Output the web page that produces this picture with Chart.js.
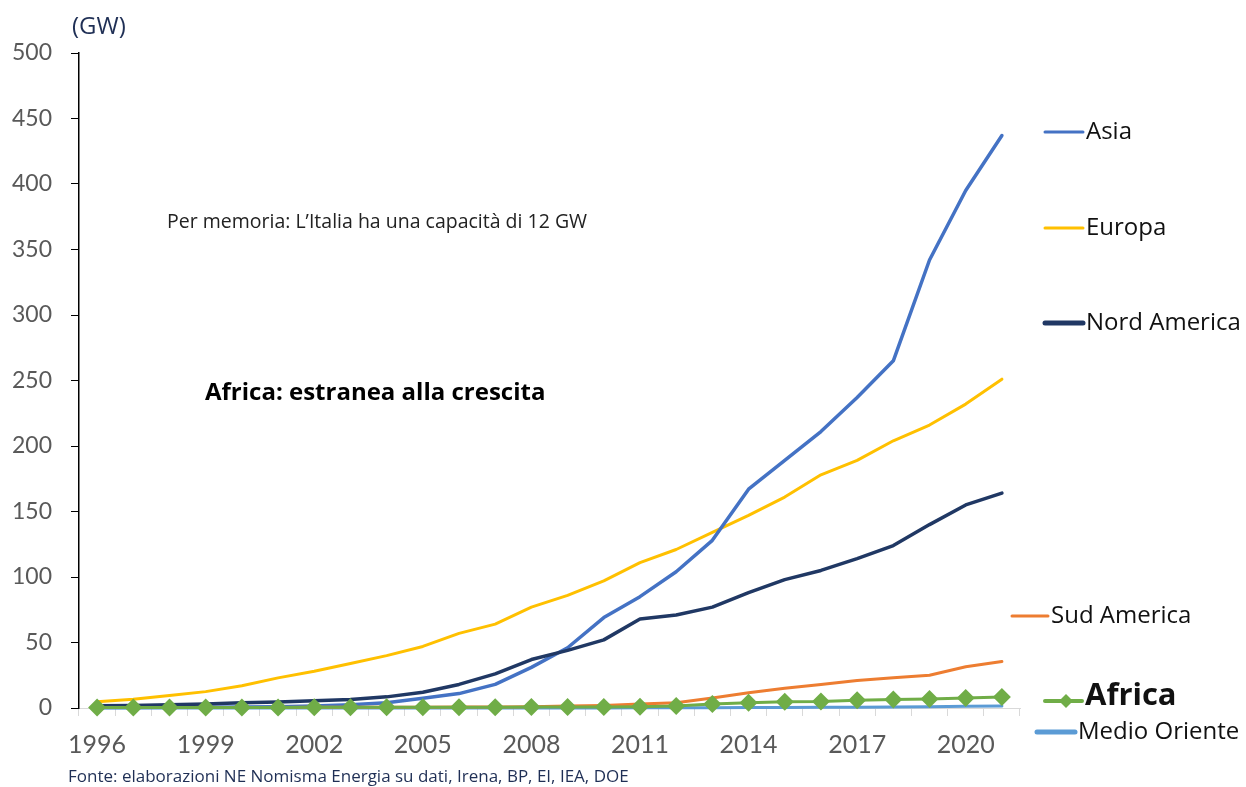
<!DOCTYPE html>
<html>
<head>
<meta charset="utf-8">
<script src="https://cdn.jsdelivr.net/npm/chart.js@4/dist/chart.umd.min.js"></script>
<style>
  html, body { margin: 0; padding: 0; background: #fff; }
  #wrap { width: 1246px; height: 787px; position: relative; }
</style>
</head>
<body>
<div id="wrap"><canvas id="capChart" width="1246" height="787"></canvas></div>
<script>
// --- capacità installata per area geografica (GW) ---

const anni = ['1996','1997','1998','1999','2000','2001','2002','2003','2004','2005','2006','2007','2008',
              '2009','2010','2011','2012','2013','2014','2015','2016','2017','2018','2019','2020','2021'];

const asia        = [0.3, 0.4, 0.5, 0.6, 0.7, 1, 1.5, 2.5, 4, 7.5, 11, 18, 31, 46, 69, 85, 104, 128, 167, 189, 211, 237, 265, 342, 395, 437];
const europa      = [4.7, 6.6, 9.5, 12.5, 17, 23, 28, 34, 40, 47, 57, 64, 77, 86, 97, 111, 121, 134, 147, 161, 178, 189, 204, 216, 232, 251];
const nordAmerica = [1.8, 2, 2.5, 3, 4, 4.5, 5.5, 6.5, 8.5, 12, 18, 26, 37, 44, 52, 68, 71, 77, 88, 98, 105, 114, 124, 140, 155, 164];
const sudAmerica  = [0.3, 0.3, 0.3, 0.4, 0.4, 0.4, 0.5, 0.5, 0.5, 0.6, 0.7, 0.8, 1, 1.5, 2, 3, 4, 7.6, 11.7, 15, 18, 21, 23, 25, 31.5, 35.5];
const africa      = [0.3, 0.3, 0.3, 0.3, 0.4, 0.4, 0.5, 0.5, 0.5, 0.5, 0.6, 0.6, 0.7, 0.7, 0.8, 1, 1.5, 3, 4, 4.7, 5, 6, 6.5, 6.9, 7.6, 8.4];
const medioOriente = [0, 0, 0, 0, 0, 0, 0, 0, 0, 0, 0, 0, 0, 0, 0, 0.1, 0.1, 0.2, 0.3, 0.4, 0.5, 0.6, 0.8, 1, 1.3, 1.6];

const yTicks = [0, 50, 100, 150, 200, 250, 300, 350, 400, 450, 500];

const FONT_ASSI = 'Lato, "Open Sans", sans-serif';
const FONT = '"Open Sans", Lato, sans-serif';

// legenda e note disegnate a mano sul canvas
const notePlugin = {
    id: 'note',
    afterDraw(chart) {
        const ctx = chart.ctx;
        ctx.save();
        ctx.textBaseline = 'middle';
        ctx.textAlign = 'left';

        ctx.fillStyle = '#1f2f55';
        ctx.font = '24px ' + FONT;
        ctx.fillText('(GW)', 72, 27);

        ctx.fillStyle = '#222';
        ctx.font = '19.5px ' + FONT;
        ctx.fillText('Per memoria: L\u2019Italia ha una capacità di 12 GW', 167, 222);

        ctx.fillStyle = '#000';
        ctx.font = 'bold 24px ' + FONT;
        ctx.fillText('Africa: estranea alla crescita', 205, 393);

        ctx.fillStyle = '#1f2f55';
        ctx.font = '17px ' + FONT;
        ctx.fillText('Fonte: elaborazioni NE Nomisma Energia su dati, Irena, BP, EI, IEA, DOE', 68, 777);

        // voci di legenda: [dataset, x1, x2, y, spessore, testo, font]
        const voci = [
            [1, 1045, 1083, 132, 3, 'Asia', '24px ' + FONT],
            [0, 1045, 1083, 228, 3, 'Europa', '24px ' + FONT],
            [2, 1045, 1083, 323, 5, 'Nord America', '24px ' + FONT],
            [4, 1012, 1048, 616, 3, 'Sud America', '24px ' + FONT],
            [5, 1045, 1082, 701, 4, 'Africa', 'bold 31px ' + FONT],
            [3, 1037, 1075, 732, 5, 'Medio Oriente', '24px ' + FONT]
        ];
        const ds = chart.data.datasets;
        voci.forEach(v => {
            const d = ds.find(s => s.ordine === v[0]);
            ctx.strokeStyle = d.borderColor;
            ctx.lineWidth = v[4];
            ctx.lineCap = 'round';
            ctx.beginPath();
            ctx.moveTo(v[1], v[3]);
            ctx.lineTo(v[2], v[3]);
            ctx.stroke();
            if (v[5] === 'Africa') {
                const cx = 1066, cy = v[3], r = 7;
                ctx.fillStyle = d.borderColor;
                ctx.beginPath();
                ctx.moveTo(cx - r, cy); ctx.lineTo(cx, cy - r);
                ctx.lineTo(cx + r, cy); ctx.lineTo(cx, cy + r);
                ctx.closePath(); ctx.fill();
            }
            ctx.fillStyle = '#111';
            ctx.font = v[6];
            ctx.fillText(v[5], v[2] + 3, v[5] === 'Africa' ? v[3] - 5 : v[3]);
        });
        ctx.restore();
    }
};

const ctx = document.getElementById('capChart').getContext('2d');
new Chart(ctx, {
    type: 'line',
    data: {
        labels: anni,
        datasets: [
            // il primo della lista viene disegnato sopra
            { label: 'Africa', ordine: 5, data: africa, borderColor: '#70ad47', backgroundColor: '#70ad47',
              borderWidth: 3, pointStyle: 'rectRot', pointRadius: 9, pointBorderWidth: 0, pointBackgroundColor: '#70ad47' },
            { label: 'Sud America', ordine: 4, data: sudAmerica, borderColor: '#ed7d31', borderWidth: 3, pointRadius: 0 },
            { label: 'Medio Oriente', ordine: 3, data: medioOriente, borderColor: '#5b9bd5', borderWidth: 3, pointRadius: 0 },
            { label: 'Nord America', ordine: 2, data: nordAmerica, borderColor: '#203864', borderWidth: 3.5, pointRadius: 0 },
            { label: 'Asia', ordine: 1, data: asia, borderColor: '#4472c4', borderWidth: 3.5, pointRadius: 0 },
            { label: 'Europa', ordine: 0, data: europa, borderColor: '#ffc000', borderWidth: 3, pointRadius: 0 }
        ]
    },
    options: {
        responsive: false,
        animation: false,
        clip: false,
        layout: { padding: { top: 53, right: 226, left: 0, bottom: 0 } },
        plugins: {
            legend: { display: false },
            tooltip: { enabled: false }
        },
        elements: { line: { tension: 0, borderCapStyle: 'round', borderJoinStyle: 'round' } },
        scales: {
            x: {
                offset: true,
                grid: { offset: true, drawOnChartArea: false, drawTicks: true, tickLength: 8, color: '#d9d9d9' },
                border: { color: '#d9d9d9', width: 1 },
                ticks: {
                    autoSkip: false, maxRotation: 0, padding: 14, color: '#595959',
                    font: { family: FONT_ASSI, size: 25 },
                    callback: function (val, i) { return i % 3 === 0 ? anni[i] : ''; }
                },
                afterFit(scale) { scale.height = 79; }
            },
            y: {
                min: 0, max: 500,
                afterBuildTicks(scale) { scale.ticks = yTicks.map(v => ({ value: v })); },
                grid: { drawOnChartArea: false, drawTicks: true, tickLength: 8, color: '#000' },
                border: { color: '#000', width: 1.5 },
                ticks: { padding: 19, color: '#595959', font: { family: FONT_ASSI, size: 23 } },
                afterFit(scale) { scale.width = 79; }
            }
        }
    },
    plugins: [notePlugin]
});
</script>
</body>
</html>
